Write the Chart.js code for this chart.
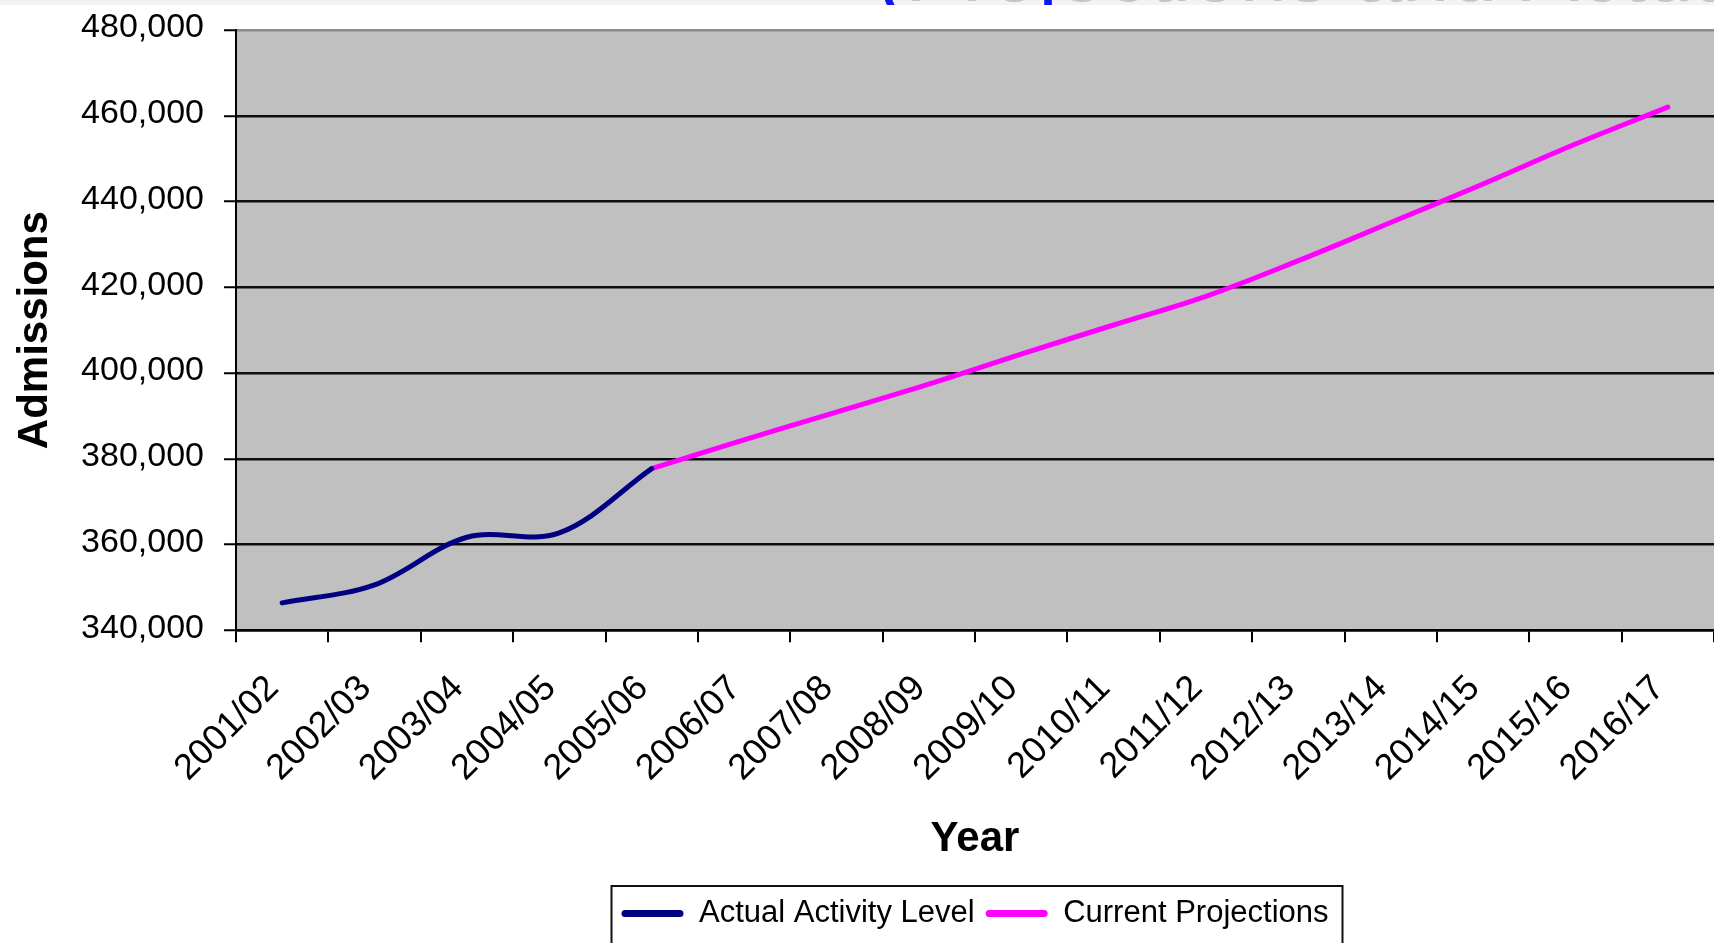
<!DOCTYPE html>
<html>
<head>
<meta charset="utf-8">
<title>Admissions</title>
<script src="https://cdn.jsdelivr.net/npm/chart.js@4/dist/chart.umd.min.js"></script>
<style>
  html, body { margin: 0; padding: 0; background: #ffffff; overflow: hidden; }
  #wrap { width: 1714px; height: 943px; position: relative; }
  canvas { display: block; }
</style>
</head>
<body>
<div id="wrap"><canvas id="chart" width="1714" height="943"></canvas></div>
<script>
// Financial years on the category axis
const categories = [
  '2001/02', '2002/03', '2003/04', '2004/05', '2005/06', '2006/07', '2007/08', '2008/09',
  '2009/10', '2010/11', '2011/12', '2012/13', '2013/14', '2014/15', '2015/16', '2016/17'
];

// Recorded admissions up to 2005/06
const actualActivity = [
  346400, 350600, 361700, 362700, 377700,
  null, null, null, null, null, null, null, null, null, null, null
];

// Projected admissions from 2005/06 onwards
const currentProjections = [
  null, null, null, null, 377700,
  384400, 390900, 397400, 404400, 411200, 417900, 426200, 435100, 444100, 453400, 462000
];

// Value axis ticks
const admissionTicks = [340000, 360000, 380000, 400000, 420000, 440000, 460000, 480000];

const FONT = "'Liberation Sans', Arial, sans-serif";

// Grey plot background and the partly hidden heading strip at the top
const backdropPlugin = {
  id: 'backdrop',
  beforeDraw(chart) {
    const { ctx, chartArea: a, width } = chart;
    ctx.save();
    ctx.fillStyle = '#ffffff';
    ctx.fillRect(0, 0, width, chart.height);
    ctx.fillStyle = '#c0c0c0';
    ctx.fillRect(a.left, a.top, a.right - a.left, a.bottom - a.top);
    ctx.restore();
  },
  afterDraw(chart) {
    const { ctx, width } = chart;
    const heading = '(Projections and Actual)';
    const x0 = 876;
    ctx.save();
    ctx.fillStyle = '#f3f3f3';
    ctx.fillRect(0, 0, width, 5);
    ctx.beginPath();
    ctx.rect(0, 0, width, 5);
    ctx.clip();
    ctx.font = '86px ' + FONT;
    ctx.textBaseline = 'alphabetic';
    ctx.textAlign = 'left';
    ctx.fillStyle = '#c4c4c4';
    ctx.fillText(heading, x0, 1.2);
    ctx.fillStyle = '#0b18f2';
    ctx.fillText('(', x0, 1.2);
    ctx.fillText('j', x0 + ctx.measureText('(Pro').width, 1.2);
    ctx.restore();
  }
};

// Frame drawn around the legend row
const legendFramePlugin = {
  id: 'legendFrame',
  afterDraw(chart) {
    const lg = chart.legend;
    if (!lg || !lg.legendHitBoxes || !lg.legendHitBoxes.length) return;
    const boxes = lg.legendHitBoxes;
    const first = boxes[0];
    const last = boxes[boxes.length - 1];
    const left = first.left - 10;
    const right = last.left + last.width + 14;
    const top = lg.top - 1;
    const ctx = chart.ctx;
    ctx.save();
    ctx.strokeStyle = '#111111';
    ctx.lineWidth = 2;
    ctx.beginPath();
    ctx.moveTo(left, chart.height + 10);
    ctx.lineTo(left, top);
    ctx.lineTo(right, top);
    ctx.lineTo(right, chart.height + 10);
    ctx.stroke();
    ctx.restore();
  }
};

const defaultLabels = Chart.defaults.plugins.legend.labels.generateLabels;

new Chart(document.getElementById('chart'), {
  type: 'line',
  data: {
    labels: categories,
    datasets: [
      {
        label: 'Actual Activity Level',
        data: actualActivity,
        borderColor: '#000080',
        backgroundColor: '#000080',
        borderWidth: 5,
        tension: 0.35,
        pointRadius: 0,
        borderCapStyle: 'round',
        borderJoinStyle: 'round',
        fill: false
      },
      {
        label: 'Current Projections',
        data: currentProjections,
        borderColor: '#ff00ff',
        backgroundColor: '#ff00ff',
        borderWidth: 5,
        tension: 0.35,
        pointRadius: 0,
        borderCapStyle: 'round',
        borderJoinStyle: 'round',
        fill: false
      }
    ]
  },
  options: {
    responsive: false,
    animation: false,
    devicePixelRatio: 1,
    layout: { padding: { top: 30, left: 0, right: 0, bottom: 4 } },
    scales: {
      x: {
        type: 'category',
        offset: true,
        afterFit(scale) {
          scale.height = 256.7;
          scale.paddingLeft = 0;
          scale.paddingRight = 0;
        },
        grid: {
          display: true,
          offset: true,
          drawOnChartArea: false,
          drawTicks: true,
          tickLength: 12,
          color: '#000000',
          lineWidth: 2
        },
        border: { display: true, color: '#000000', width: 2.5 },
        ticks: {
          autoSkip: false,
          minRotation: 45,
          maxRotation: 45,
          padding: 25,
          labelOffset: -9,
          color: '#000000',
          font: { family: FONT, size: 36 }
        },
        title: {
          display: true,
          text: 'Year',
          color: '#000000',
          font: { family: FONT, size: 42, weight: 'bold' },
          padding: { top: 0, bottom: 22 }
        }
      },
      y: {
        min: admissionTicks[0],
        max: admissionTicks[admissionTicks.length - 1],
        afterBuildTicks(scale) {
          scale.ticks = admissionTicks.map(v => ({ value: v }));
        },
        afterFit(scale) {
          scale.width = 236;
          scale.paddingTop = 0;
          scale.paddingBottom = 0;
        },
        grid: {
          color: ctx => (ctx.tick && ctx.tick.value === admissionTicks[admissionTicks.length - 1]) ? '#8c8c8c' : '#0d0d0d',
          tickColor: '#000000',
          lineWidth: 2.5,
          tickWidth: 2,
          tickLength: 12,
          drawTicks: true
        },
        border: { display: true, color: '#000000', width: 2 },
        ticks: {
          padding: 20,
          labelOffset: -2,
          color: '#000000',
          font: { family: FONT, size: 34 },
          callback: v => Number(v).toLocaleString('en-US')
        },
        title: {
          display: true,
          text: 'Admissions',
          color: '#000000',
          font: { family: FONT, size: 42, weight: 'bold' },
          padding: { top: 10, bottom: 0 }
        }
      }
    },
    plugins: {
      title: { display: false },
      tooltip: { enabled: false },
      legend: {
        display: true,
        position: 'bottom',
        fullSize: false,
        labels: {
          boxWidth: 62,
          boxHeight: 7,
          padding: 11,
          color: '#000000',
          font: { family: FONT, size: 31 },
          generateLabels(chart) {
            return defaultLabels(chart).map(item => {
              item.fillStyle = item.strokeStyle;
              item.lineWidth = 0;
              item.borderRadius = 3.5;
              return item;
            });
          }
        }
      }
    }
  },
  plugins: [backdropPlugin, legendFramePlugin]
});
</script>
</body>
</html>
